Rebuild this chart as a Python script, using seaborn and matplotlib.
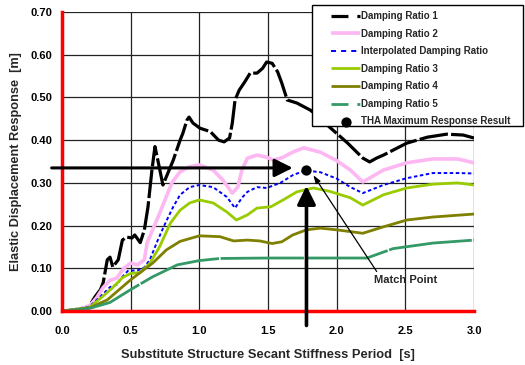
import matplotlib
matplotlib.use("Agg")
import matplotlib.pyplot as plt
from matplotlib.patches import Rectangle
import seaborn as sns
import pandas as pd

# ---- data ----
dr1_x = [0, 0.13, 0.20, 0.24, 0.28, 0.30, 0.33, 0.35, 0.37, 0.41, 0.44, 0.47, 0.51, 0.53, 0.57, 0.60,
         0.626, 0.655, 0.677, 0.70, 0.735, 0.81, 0.86, 0.88, 0.91, 0.925, 0.954, 1.005, 1.08, 1.14,
         1.18, 1.22, 1.24, 1.26, 1.29, 1.33, 1.37, 1.42, 1.46, 1.49, 1.53, 1.57, 1.60, 1.64, 1.71,
         1.81, 1.95, 2.08, 2.19, 2.24, 2.29, 2.34, 2.51, 2.66, 2.80, 2.92, 3.0]
dr1_y = [0, 0.002, 0.012, 0.033, 0.05, 0.066, 0.12, 0.126, 0.103, 0.12, 0.166, 0.173, 0.171, 0.178,
         0.16, 0.19, 0.243, 0.33, 0.385, 0.35, 0.295, 0.353, 0.40, 0.416, 0.447, 0.454, 0.44, 0.428,
         0.42, 0.40, 0.396, 0.405, 0.44, 0.494, 0.517, 0.536, 0.557, 0.557, 0.568, 0.583, 0.58,
         0.56, 0.534, 0.494, 0.487, 0.47, 0.43, 0.393, 0.358, 0.349, 0.358, 0.365, 0.393, 0.407,
         0.414, 0.412, 0.405]

dr2_x = [0, 0.10, 0.20, 0.25, 0.30, 0.35, 0.40, 0.45, 0.50, 0.55, 0.60, 0.62, 0.66, 0.70, 0.75, 0.80,
         0.86, 0.93, 1.00, 1.10, 1.17, 1.24, 1.28, 1.31, 1.35, 1.42, 1.49, 1.54, 1.61, 1.68, 1.76,
         1.88, 2.00, 2.10, 2.19, 2.34, 2.51, 2.70, 2.88, 3.0]
dr2_y = [0, 0.001, 0.012, 0.03, 0.055, 0.072, 0.077, 0.10, 0.112, 0.108, 0.12, 0.16, 0.19, 0.22,
         0.26, 0.30, 0.326, 0.338, 0.342, 0.33, 0.307, 0.276, 0.29, 0.33, 0.358, 0.365, 0.36, 0.353,
         0.36, 0.372, 0.382, 0.372, 0.352, 0.33, 0.302, 0.33, 0.347, 0.356, 0.356, 0.347]

interp_x = [0, 0.20, 0.25, 0.30, 0.35, 0.40, 0.44, 0.48, 0.55, 0.60, 0.64, 0.69, 0.74, 0.81, 0.86,
            0.93, 1.00, 1.10, 1.20, 1.26, 1.31, 1.35, 1.42, 1.49, 1.59, 1.68, 1.77, 1.88, 2.00,
            2.10, 2.19, 2.34, 2.51, 2.70, 2.88, 3.0]
interp_y = [0, 0.01, 0.025, 0.04, 0.056, 0.062, 0.08, 0.094, 0.095, 0.102, 0.12, 0.16, 0.197,
            0.244, 0.272, 0.29, 0.295, 0.29, 0.267, 0.241, 0.265, 0.279, 0.29, 0.288, 0.30, 0.318,
            0.329, 0.325, 0.31, 0.29, 0.276, 0.295, 0.311, 0.323, 0.323, 0.322]

dr3_x = [0, 0.20, 0.30, 0.37, 0.44, 0.50, 0.57, 0.64, 0.71, 0.79, 0.86, 0.93, 1.00, 1.10, 1.20,
         1.27, 1.35, 1.42, 1.52, 1.61, 1.71, 1.83, 1.95, 2.10, 2.19, 2.34, 2.51, 2.70, 2.88, 3.0]
dr3_y = [0, 0.008, 0.035, 0.055, 0.078, 0.088, 0.09, 0.112, 0.15, 0.206, 0.236, 0.253, 0.26,
         0.253, 0.232, 0.213, 0.225, 0.241, 0.244, 0.26, 0.279, 0.288, 0.28, 0.265, 0.248, 0.272,
         0.288, 0.297, 0.30, 0.295]

dr4_x = [0, 0.20, 0.33, 0.50, 0.66, 0.76, 0.86, 1.00, 1.15, 1.25, 1.35, 1.44, 1.53, 1.60, 1.68,
         1.78, 1.88, 2.00, 2.19, 2.34, 2.51, 2.70, 3.0]
dr4_y = [0, 0.007, 0.026, 0.073, 0.112, 0.143, 0.163, 0.176, 0.174, 0.164, 0.166, 0.164, 0.158,
         0.162, 0.178, 0.19, 0.194, 0.19, 0.182, 0.197, 0.213, 0.22, 0.227]

dr5_x = [0, 0.20, 0.35, 0.50, 0.66, 0.84, 1.00, 1.15, 1.50, 2.00, 2.22, 2.41, 2.70, 3.0]
dr5_y = [0, 0.006, 0.02, 0.05, 0.08, 0.108, 0.118, 0.123, 0.124, 0.124, 0.124, 0.146, 0.159, 0.166]

tha_x = [1.78]
tha_y = [0.330]

x_ticks = [0.0, 0.5, 1.0, 1.5, 2.0, 2.5, 3.0]
x_tick_labels = ["0.0", "0.5", "1.0", "1.5", "2.0", "2.5", "3.0"]
y_ticks = [0.0, 0.1, 0.2, 0.3, 0.4, 0.5, 0.6, 0.7]
y_tick_labels = ["0.00", "0.10", "0.20", "0.30", "0.40", "0.50", "0.60", "0.70"]

series = [
    ("Damping Ratio 1", dr1_x, dr1_y),
    ("Damping Ratio 2", dr2_x, dr2_y),
    ("Interpolated Damping Ratio", interp_x, interp_y),
    ("Damping Ratio 3", dr3_x, dr3_y),
    ("Damping Ratio 4", dr4_x, dr4_y),
    ("Damping Ratio 5", dr5_x, dr5_y),
]

styles = {
    "Damping Ratio 1": dict(color="black", lw=2.3, dashes=(9, 1.0),
                            legend_dashes=(5.3, 2.8, 1.0, 10)),
    "Damping Ratio 2": dict(color="#FDB7F3", lw=2.6, dashes=None, legend_dashes=None),
    "Interpolated Damping Ratio": dict(color="#0000FF", lw=1.4, dashes=(1.8, 1.3),
                                       legend_dashes=(2.6, 2.6)),
    "Damping Ratio 3": dict(color="#99CC00", lw=2.0, dashes=None, legend_dashes=None),
    "Damping Ratio 4": dict(color="#808000", lw=2.0, dashes=None, legend_dashes=None),
    "Damping Ratio 5": dict(color="#339966", lw=2.0, dashes=(30, 0.6),
                            legend_dashes=(6.1, 3.2, 1.1, 12)),
}

sns.set_style("white")
plt.rcParams["font.family"] = ["Liberation Sans", "DejaVu Sans"]
plt.rcParams["font.weight"] = "bold"

W, H = 525, 365
fig = plt.figure(figsize=(W / 100, H / 100), dpi=100)
ax = fig.add_axes([0.118, 0.148, 0.785, 0.819])

for name, xs, ys in series:
    df = pd.DataFrame({"x": xs, "y": ys})
    st = styles[name]
    sns.lineplot(data=df, x="x", y="y", ax=ax, color=st["color"], linewidth=st["lw"],
                 estimator=None, sort=False, label=name, zorder=3)
    l = ax.get_lines()[-1]
    if st["dashes"] is not None:
        l.set_dashes(st["dashes"])
    l.set_solid_capstyle("butt")
    l.set_solid_joinstyle("round")
    l.set_dash_joinstyle("round")

sns.scatterplot(x=tha_x, y=tha_y, ax=ax, color="black", s=55, zorder=6,
                label="THA Maximum Response Result", edgecolor="black", linewidth=0)

ax.set_xlim(0, 3.0)
ax.set_ylim(0, 0.70)
ax.set_xticks(x_ticks)
ax.set_xticklabels(x_tick_labels)
ax.set_yticks(y_ticks)
ax.set_yticklabels(y_tick_labels)
ax.tick_params(axis="both", labelsize=8, colors="red", length=3, width=1.5, direction="out")
for lab in ax.get_xticklabels() + ax.get_yticklabels():
    lab.set_color("black")
    lab.set_fontweight("bold")
ax.tick_params(axis="x", pad=8)
ax.tick_params(axis="y", pad=4)

ax.grid(True, color="#222222", linewidth=0.9, zorder=0)
ax.set_axisbelow(True)
for side in ["top", "right"]:
    ax.spines[side].set_visible(False)
for side in ["left", "bottom"]:
    ax.spines[side].set_color("red")
    ax.spines[side].set_linewidth(2.5)
    ax.spines[side].set_zorder(5)

ax.set_xlabel("Substitute Structure Secant Stiffness Period  [s]", fontsize=9.3,
              fontweight="bold", labelpad=9)
ax.set_ylabel("Elastic Displacement Response  [m]", fontsize=9.2, fontweight="bold", labelpad=6)

# arrows
ax.annotate("", xy=(1.68, 0.335), xytext=(-0.075, 0.335), annotation_clip=False,
            arrowprops=dict(arrowstyle="-|>,head_length=1.1,head_width=0.55", lw=2.2,
                            color="black", shrinkA=0, shrinkB=0), zorder=7)
ax.annotate("", xy=(1.78, 0.293), xytext=(1.78, -0.034), annotation_clip=False,
            arrowprops=dict(arrowstyle="-|>,head_length=1.1,head_width=0.55", lw=2.6,
                            color="black", shrinkA=0, shrinkB=0), zorder=7)
ax.annotate("Match Point", xy=(1.83, 0.318), xytext=(2.27, 0.073), fontsize=8,
            fontweight="bold", va="center", ha="left",
            arrowprops=dict(arrowstyle="-|>,head_length=0.6,head_width=0.2", lw=0.9,
                            color="black", shrinkA=0, shrinkB=0,
                            relpos=(0.08, 1.0)), zorder=7)

# legend box (frame drawn separately, placed like the reference), above the plot content
box = Rectangle((312 / W, 1 - 126 / H), (523 - 312) / W, (126 - 5) / H,
                transform=fig.transFigure, facecolor="white", edgecolor="black",
                linewidth=1.0, zorder=9, clip_on=False)
ax.add_artist(box)
leg = ax.legend(loc="upper left", bbox_to_anchor=(331 / W, 1 - 11 / H),
                bbox_transform=fig.transFigure,
                frameon=False, handlelength=3.0, labelspacing=0.78, borderpad=0,
                handletextpad=0.05, borderaxespad=0, prop={"weight": "bold", "size": 7})
leg.set_zorder(10)
names = [s[0] for s in series]
for hl, name in zip(leg.get_lines(), names):
    ld = styles[name]["legend_dashes"]
    if ld is not None:
        hl.set_dashes(ld)
    hl.set_solid_capstyle("butt")
    hl.set_dash_capstyle("butt")

fig.savefig("out.png", dpi=100)
